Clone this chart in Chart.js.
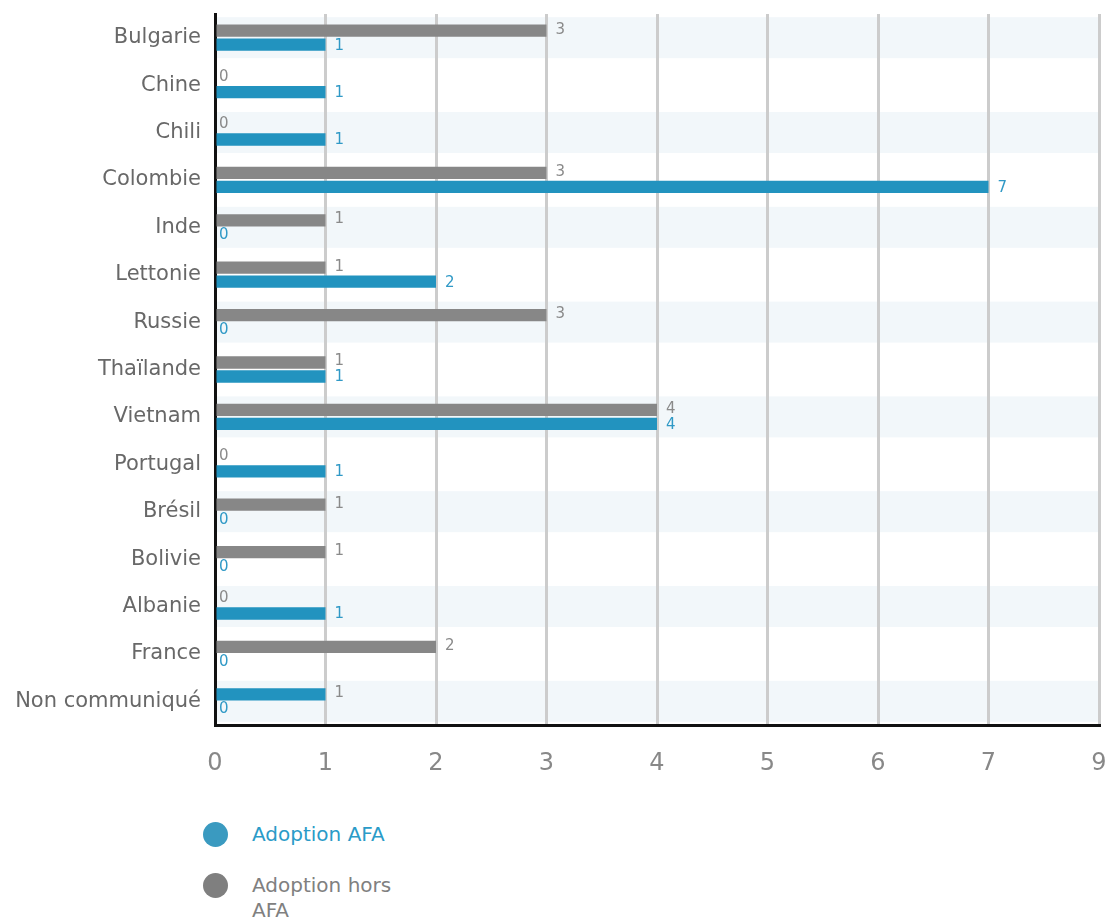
<!DOCTYPE html>
<html>
<head>
<meta charset="utf-8">
<script src="https://cdn.jsdelivr.net/npm/chart.js@4"></script>
<style>
  html, body { margin: 0; padding: 0; background: #fff; }
  body { width: 1112px; height: 922px; overflow: hidden; font-family: "DejaVu Sans", Verdana, sans-serif; }
  #wrap { position: absolute; left: 0; top: 0; width: 1112px; height: 790px; }
  #legend { position: absolute; left: 203px; top: 822px; }
  .item { position: relative; padding-left: 49px; font-size: 20px; line-height: 25px; width: 170px; margin-bottom: 26px; }
  .dot { position: absolute; left: 0; top: 0; width: 25px; height: 25px; border-radius: 50%; }
</style>
</head>
<body>
<div id="wrap"><canvas id="chart"></canvas></div>
<div id="legend">
  <div class="item" style="color:#2a9bc8"><span class="dot" style="background:#3a9ac0"></span>Adoption AFA</div>
  <div class="item" style="color:#808080"><span class="dot" style="background:#7f7f7f"></span>Adoption hors AFA</div>
</div>
<script>
// categories and values
const countries = ['Bulgarie', 'Chine', 'Chili', 'Colombie', 'Inde', 'Lettonie', 'Russie',
  'Thaïlande', 'Vietnam', 'Portugal', 'Brésil', 'Bolivie', 'Albanie', 'France', 'Non communiqué'];
const horsAfa = [3, 0, 0, 3, 1, 1, 3, 1, 4, 0, 1, 1, 0, 2, 1];
const afa     = [1, 1, 1, 7, 0, 2, 0, 1, 4, 1, 0, 0, 1, 0, 0];
// the source axis runs 0..8 but its last tick reads "9"
const xTickValues = [0, 1, 2, 3, 4, 5, 6, 7, 8];
const xTickLabels = ['0', '1', '2', '3', '4', '5', '6', '7', '9'];

const BLUE = '#2293bf';
const GREY = '#878787';

// last grey bar is drawn blue in the original
const greyColors = horsAfa.map((v, i) => i === countries.length - 1 ? BLUE : GREY);

// alternating row bands
const bands = {
  id: 'bands',
  beforeDraw(chart) {
    const { ctx, chartArea, scales } = chart;
    ctx.save();
    ctx.fillStyle = '#f2f7fa';
    countries.forEach((c, i) => {
      if (i % 2) return;
      const y = scales.y.getPixelForValue(i);
      ctx.fillRect(chartArea.left, y - 20.5, chartArea.right - chartArea.left, 41);
    });
    ctx.restore();
  }
};

// value labels at bar ends
const valueLabels = {
  id: 'valueLabels',
  afterDatasetsDraw(chart) {
    const { ctx } = chart;
    ctx.save();
    ctx.font = '15px "DejaVu Sans", Verdana, sans-serif';
    ctx.textBaseline = 'middle';
    chart.data.datasets.forEach((ds, di) => {
      const meta = chart.getDatasetMeta(di);
      ctx.fillStyle = ds.labelColor;
      meta.data.forEach((bar, i) => {
        const v = ds.data[i];
        const x = v > 0 ? bar.x + 9 : bar.x + 4;
        const y = bar.y + (di === 0 ? -1 : 1);
        ctx.fillText(String(v), x, y);
      });
    });
    ctx.restore();
  }
};

new Chart(document.getElementById('chart'), {
  type: 'bar',
  data: {
    labels: countries,
    datasets: [
      { label: 'Adoption hors AFA', data: horsAfa, backgroundColor: greyColors, labelColor: '#8a8a8a' },
      { label: 'Adoption AFA', data: afa, backgroundColor: BLUE, labelColor: '#3099c6' }
    ]
  },
  options: {
    indexAxis: 'y',
    responsive: true,
    maintainAspectRatio: false,
    animation: false,
    layout: { padding: { top: 14, right: 13, left: 0, bottom: 0 } },
    datasets: { bar: { categoryPercentage: 0.59, barPercentage: 0.88, borderWidth: 0 } },
    plugins: { legend: { display: false }, tooltip: { enabled: false } },
    scales: {
      x: {
        type: 'linear',
        min: 0, max: 8,
        afterBuildTicks: s => { s.ticks = xTickValues.map(v => ({ value: v })); },
        afterFit: s => { s.height = 65; s.paddingLeft = 0; s.paddingRight = 0; },
        grid: { color: '#cccccc', lineWidth: 3, drawTicks: false },
        border: { color: '#111', width: 3 },
        ticks: {
          color: '#888',
          font: { size: 24, family: '"DejaVu Sans", Verdana, sans-serif' },
          padding: 24,
          callback: (v, i) => xTickLabels[i]
        }
      },
      y: {
        afterFit: s => { s.width = 215; s.paddingTop = 0; s.paddingBottom = 0; },
        grid: { display: false, drawTicks: false },
        border: { color: '#111', width: 3 },
        ticks: { color: '#686868', font: { size: 21, family: '"DejaVu Sans", Verdana, sans-serif' }, padding: 14 }
      }
    }
  },
  plugins: [bands, valueLabels]
});
</script>
</body>
</html>
